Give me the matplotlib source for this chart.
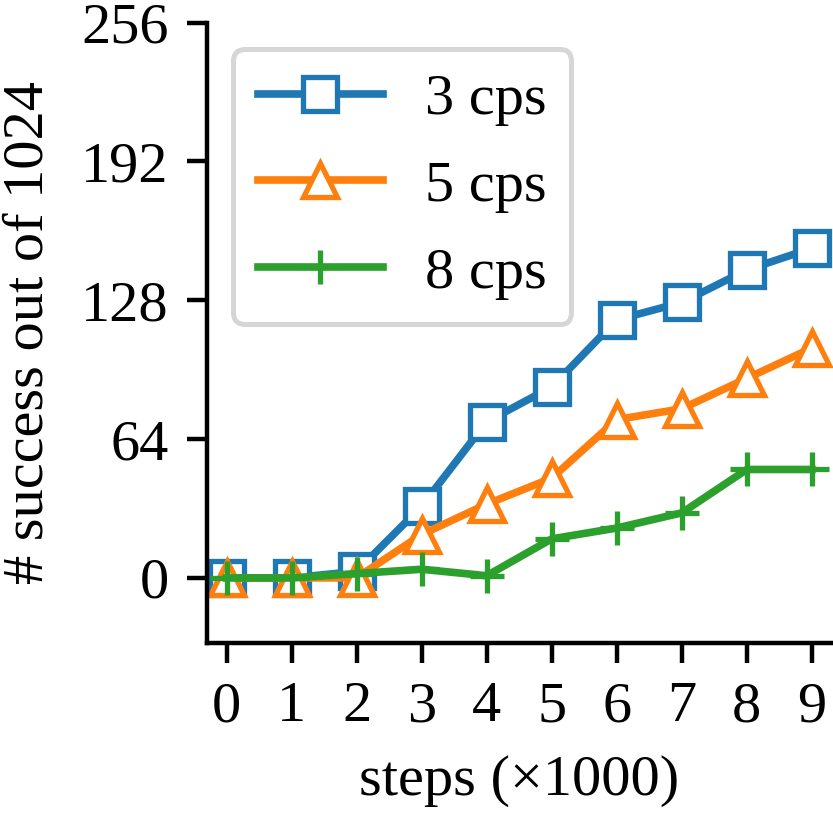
import matplotlib
matplotlib.use('Agg')
import matplotlib.pyplot as plt

steps = [0, 1, 2, 3, 4, 5, 6, 7, 8, 9]
cps3 = [0, 0, 3, 33, 72, 88, 119, 127, 142, 152]
cps5 = [0, 0, 0, 20, 34, 46, 73, 78, 92, 106]
cps8 = [0, 0, 2, 4, 1, 18, 23, 30, 50, 50]
labels = ['3 cps', '5 cps', '8 cps']
yticks = [0, 64, 128, 192, 256]

plt.rcParams['font.family'] = ['Liberation Serif', 'DejaVu Serif']
plt.rcParams['font.size'] = 42

fig = plt.figure(figsize=(8.33, 8.27), dpi=100)
ax = fig.add_axes([0.2485, 0.2225, 0.998 - 0.2485, 0.9726 - 0.2225])

lw = 5.5
ms = 25
mew = 3.8
ax.plot(steps, cps3, color='#1f77b4', lw=lw, marker='s', ms=ms, mew=mew,
        mfc='white', label=labels[0], clip_on=False)
ax.plot(steps, cps5, color='#ff7f0e', lw=lw, marker='^', ms=ms, mew=mew,
        mfc='white', label=labels[1], clip_on=False)
ax.plot(steps, cps8, color='#2ca02c', lw=lw, marker='+', ms=ms, mew=mew,
        label=labels[2], clip_on=False)

ax.set_xlim(-0.3, 9.3)
ax.set_ylim(-30, 256)
ax.set_xticks(steps)
ax.set_yticks(yticks)
ax.spines['top'].set_visible(False)
ax.spines['right'].set_visible(False)
for s in ['left', 'bottom']:
    ax.spines[s].set_linewidth(3.2)
ax.tick_params(width=3.2, length=14.5, pad=13)

ax.set_xlabel('steps (×1000)', labelpad=16)
ax.set_ylabel('# success out of 1024')
ax.yaxis.set_label_coords(-0.245, 0.5)

leg = ax.legend(loc='upper left', handlelength=2.15, handletextpad=0.72,
                labelspacing=0.58, borderaxespad=0.45, borderpad=0.42,
                fancybox=True, framealpha=1)
leg.get_frame().set_edgecolor('#d6d6d6')
leg.get_frame().set_linewidth(3.6)

plt.savefig('out.png', dpi=100)
